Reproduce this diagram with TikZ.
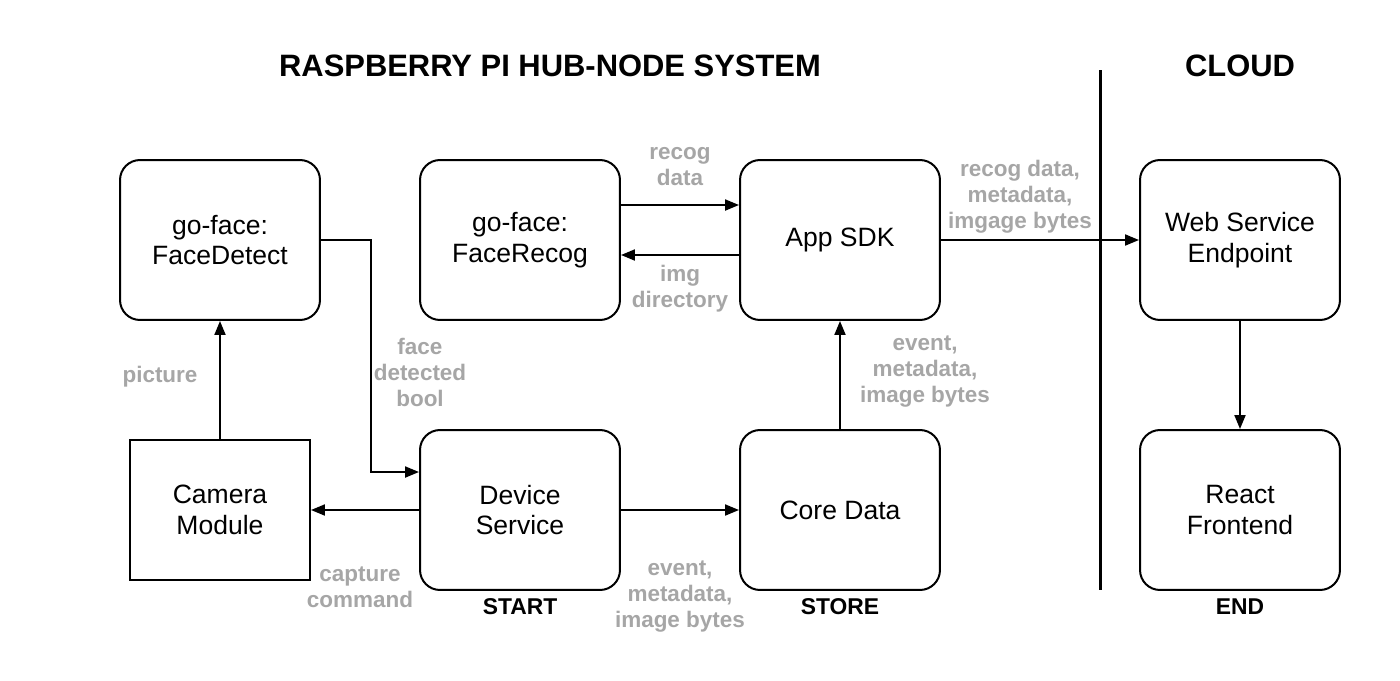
\documentclass[tikz,border=0pt]{standalone}
\usepackage{fontspec}
\setmainfont{Liberation Sans}
\usetikzlibrary{arrows.meta}
\definecolor{labelgray}{RGB}{166,166,166}
\begin{document}
\begin{tikzpicture}[x=0.02cm,y=-0.02cm,
                    line width=0.04cm,>={Triangle[length=0.28cm,width=0.22cm]},
                    block node/.style={draw,rounded corners=0.4cm,minimum width=4cm,minimum height=3.2cm,align=center,inner sep=0pt,font=\fontsize{15.1}{17.6}\selectfont},
                    cam node/.style={draw,minimum width=3.6cm,minimum height=2.8cm,align=center,inner sep=0pt,font=\fontsize{15.1}{17.6}\selectfont},
                    gray label/.style={text=labelgray,align=center,inner sep=0pt,font=\fontsize{12.8}{14.8}\selectfont\bfseries},
                    tag label/.style={align=center,inner sep=0pt,font=\fontsize{13}{15}\selectfont\bfseries},
                    head label/.style={inner sep=0pt,font=\fontsize{17.6}{21}\selectfont\bfseries}
                   ]
  \useasboundingbox (0,0) rectangle (1400,680);

  % headings
  \node[head label] (hub) at (550,66) {RASPBERRY PI HUB-NODE SYSTEM};
  \node[head label] (cloud) at (1240,66) {CLOUD};

  % boxes
  \node[block node] (detect) at (220,240) {go-face:\\FaceDetect};
  \node[block node] (recog) at (520,240) {go-face:\\FaceRecog};
  \node[block node] (sdk) at (840,240) {App SDK};
  \node[block node] (web) at (1240,240) {Web Service\\Endpoint};
  \node[cam node] (camera) at (220,510) {Camera\\Module};
  \node[block node] (device) at (520,510) {Device\\Service};
  \node[block node] (core) at (840,510) {Core Data};
  \node[block node] (react) at (1240,510) {React\\Frontend};

  % divider
  \coordinate (divtop) at (1100,70);
  \coordinate (divbot) at (1100,590);
  \draw[line width=0.06cm] (divtop) -- (divbot);

  % connectors
  \draw[->] (camera) -- (detect);
  \draw[->] (detect.east) -- ++(50,0) |- ([yshift=0.76cm]device.west);
  \draw[->] (device) -- (camera);
  \draw[->] (device) -- (core);
  \draw[->] (core) -- (sdk);
  \draw[->] ([yshift=0.7cm]recog.east) -- ([yshift=0.7cm]sdk.west);
  \draw[->] ([yshift=-0.3cm]sdk.west) -- ([yshift=-0.3cm]recog.east);
  \draw[->] (sdk) -- (web);
  \draw[->] (web) -- (react);

  % connector labels
  \node[gray label] (l1) at (160,377) {picture};
  \node[gray label] (l2) at (420,372) {face\\detected\\bool};
  \node[gray label] (l3) at (360,587) {capture\\command};
  \node[gray label] (l4) at (680,597) {event,\\metadata,\\image bytes};
  \node[gray label] (l5) at (925,372) {event,\\metadata,\\image bytes};
  \node[gray label] (l6) at (680,167) {recog\\data};
  \node[gray label] (l7) at (680,289) {img\\directory};
  \node[gray label] (l8) at (1020,197) {recog data,\\metadata,\\imgage bytes};

  % stage tags
  \node[tag label] (start) at (520,607) {START};
  \node[tag label] (store) at (840,607) {STORE};
  \node[tag label] (end) at (1240,607) {END};
\end{tikzpicture}
\end{document}
